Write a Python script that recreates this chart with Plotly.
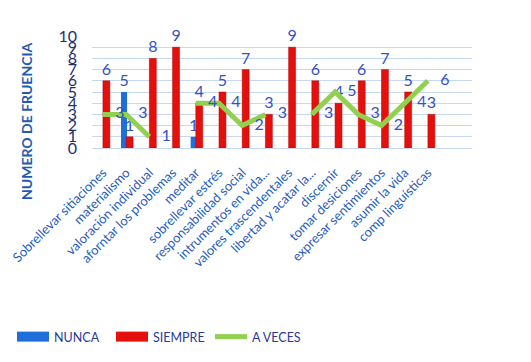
import plotly.graph_objects as go

categories = ["Sobrellevar sitiaciones", "materialismo", "valoración individual",
              "aforntar los problemas", "meditar", "sobrellevar estrés",
              "responsabilidad social", "intrumentos en vida...", "valores trascendentales",
              "libertad y acatar la...", "discernir", "tomar desiciones",
              "expresar sentimientos", "asumir la vida", "comp linguísticas"]
nunca = [None, 5, None, None, 1, None, None, None, None, None, None, None, None, None, None]
siempre = [6, 1, 8, 9, 4, 5, 7, 3, 9, 6, 4, 6, 7, 5, 3]
a_veces = [3, 3, 1, None, 4, 4, 2, 3, None, 3, 5, 3, 2, 4, 6]
y_ticks = list(range(0, 11))

xs = list(range(len(categories)))
font_fam = "Lato, Open Sans, sans-serif"
lbl_color = "#3352C4"
blue = "#1E6FD9"
red = "#E5100C"
green = "#92D050"

# page body has an 8px default margin; figure is sized to compensate
W, H = 523, 354
L, T = 84, 28           # plot area left/top (figure px)
PW, PH = 380, 112       # plot area size

fig = go.Figure()
fig.add_trace(go.Bar(
    x=xs, y=nunca, name="NUNCA", marker=dict(color=blue, line=dict(width=0)),
    width=0.26, offset=-0.22, showlegend=False, constraintext="none",
    text=[str(v) if v is not None else "" for v in nunca], textposition="outside",
    textfont=dict(color=lbl_color, size=16, family=font_fam), cliponaxis=False))
fig.add_trace(go.Bar(
    x=xs, y=siempre, name="SIEMPRE", marker=dict(color=red, line=dict(color="#B00000", width=0.5)),
    width=0.3, offset=0.0, showlegend=False, constraintext="none",
    text=[str(v) for v in siempre], textposition="outside",
    textfont=dict(color=lbl_color, size=16, family=font_fam), cliponaxis=False))
fig.add_trace(go.Scatter(
    x=xs, y=a_veces, name="A VECES", mode="lines+markers+text",
    line=dict(color=green, width=5), connectgaps=False,
    marker=dict(size=18, color="rgba(0,0,0,0)"), showlegend=False,
    text=[str(v) if v is not None else "" for v in a_veces], textposition="middle right",
    textfont=dict(color=lbl_color, size=16, family=font_fam), cliponaxis=False))

# legend entries (wide swatches like the original)
for nm, col in [("NUNCA", blue), ("SIEMPRE", red), ("A VECES", green)]:
    fig.add_trace(go.Scatter(x=[None], y=[None], mode="lines", name=nm,
                             line=dict(color=col, width=10 if nm != "A VECES" else 5)))

fig.update_layout(
    width=W, height=H,
    margin=dict(l=L, r=W - L - PW, t=T, b=H - T - PH, autoexpand=False),
    paper_bgcolor="white", plot_bgcolor="white",
    barmode="overlay", showlegend=True,
    font=dict(family=font_fam, color="#2A3A9A"),
    legend=dict(orientation="h", x=(4 - L) / PW, xanchor="left",
                y=-(329 - (T + PH)) / PH, yanchor="middle",
                font=dict(size=12.5, color="#2A3A9A", family=font_fam),
                itemwidth=32, traceorder="normal", entrywidth=52, entrywidthmode="pixels"),
    xaxis=dict(range=[-0.47, 15.9], tickvals=xs, ticktext=categories, tickangle=-45,
               tickfont=dict(size=13, color="#1F5BC0", family=font_fam), automargin=False,
               ticklabeloverflow="allow", ticklabelstandoff=11,
               showgrid=False, showline=True, linecolor="#C6D9F0", ticks="", zeroline=False),
    yaxis=dict(range=[0, 10], tickvals=y_ticks, ticktext=[str(v) for v in y_ticks],
               tickfont=dict(size=16, color="#1F2F6F", family=font_fam), automargin=False,
               ticklabelstandoff=14,
               showgrid=True, gridcolor="#C6D9F0", gridwidth=1, zeroline=False,
               showline=False, ticks=""),
    annotations=[dict(text="<b>NUMERO DE FRUENCIA</b>", textangle=-90,
                      x=(18 - L) / PW, y=(T + PH - 113) / PH,
                      xref="paper", yref="paper", xanchor="center", yanchor="middle",
                      showarrow=False,
                      font=dict(size=14, color="#1F5BB5", family=font_fam))],
)

fig.write_html("out.html")
